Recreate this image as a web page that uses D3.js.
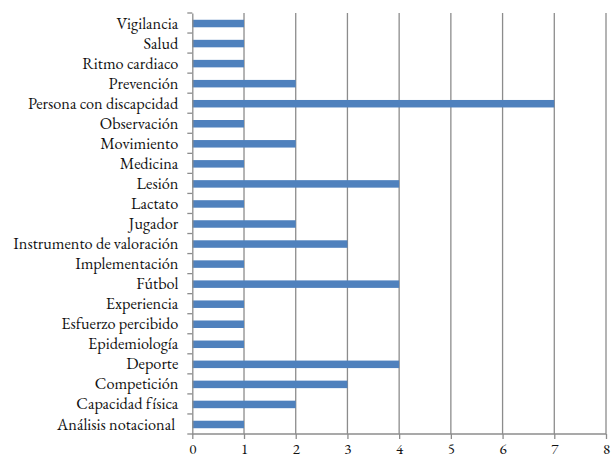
<!DOCTYPE html>
<html><head><meta charset="utf-8">
<script src="https://cdn.jsdelivr.net/npm/d3@7"></script>
<style>body{margin:0;background:#fff}svg{display:block}</style>
</head><body>
<svg id="c" width="616" height="459"></svg>
<script>
const categories = ["Vigilancia","Salud","Ritmo cardiaco","Prevención","Persona con discapcidad","Observación","Movimiento","Medicina","Lesión","Lactato","Jugador","Instrumento de valoración","Implementación","Fútbol","Experiencia","Esfuerzo percibido","Epidemiología","Deporte","Competición","Capacidad física","Análisis notacional\u00a0"];
const values = [1,1,1,2,7,1,2,1,4,1,2,3,1,4,1,1,1,4,3,2,1];
const xTicks = [0,1,2,3,4,5,6,7,8];

(function(){
const svg = d3.select("#c");
const mL = 192.3, mR = 606, mT = 13, mB = 434;
const x = d3.scaleLinear().domain([0,8]).range([mL,mR]);
const y = d3.scaleBand().domain(categories).range([mT,mB]);
const font = "'EB Garamond', 'Liberation Serif', serif";
const grid = "#8c8c8c";

svg.append("g").selectAll("line").data(xTicks.filter(d=>d>0)).join("line")
  .attr("x1",d=>x(d)).attr("x2",d=>x(d)).attr("y1",mT).attr("y2",mB)
  .attr("stroke",grid).attr("stroke-width",1.3);

const bh = 7.5;
svg.append("g").selectAll("rect").data(values).join("rect")
  .attr("x",x(0)).attr("y",(d,i)=>y(categories[i])+y.bandwidth()/2-bh/2+0.5)
  .attr("width",d=>x(d)-x(0)).attr("height",bh)
  .attr("fill","#4f81bd");

const ya = d3.axisLeft(y).tickSize(0).tickPadding(14);
const gy = svg.append("g").attr("transform",`translate(${mL},0)`).call(ya);
gy.attr("font-family",null).attr("font-size",null);
gy.select(".domain").attr("stroke",grid).attr("stroke-width",1.3);
gy.selectAll("text").style("font-family",font).style("font-size","16.3px").attr("fill","#111").attr("dy","0.34em");
svg.append("g").selectAll("line").data(d3.range(categories.length+1)).join("line")
  .attr("x1",mL-5).attr("x2",mL).attr("y1",i=>mT+i*y.step()).attr("y2",i=>mT+i*y.step())
  .attr("stroke",grid).attr("stroke-width",1.3);

const xa = d3.axisBottom(x).tickValues(xTicks).tickSize(5).tickPadding(4).tickFormat(d3.format("d"));
const gx = svg.append("g").attr("transform",`translate(0,${mB})`).call(xa);
gx.attr("font-family",null).attr("font-size",null);
gx.select(".domain").attr("stroke",grid).attr("stroke-width",1.3).attr("d",`M${mL},0H${mR}`);
gx.selectAll(".tick line").attr("stroke",grid).attr("stroke-width",1.3);
gx.selectAll("text").style("font-family",font).style("font-size","15px").style("font-variant-numeric","lining-nums").attr("fill","#111");
})();
</script>
</body></html>
